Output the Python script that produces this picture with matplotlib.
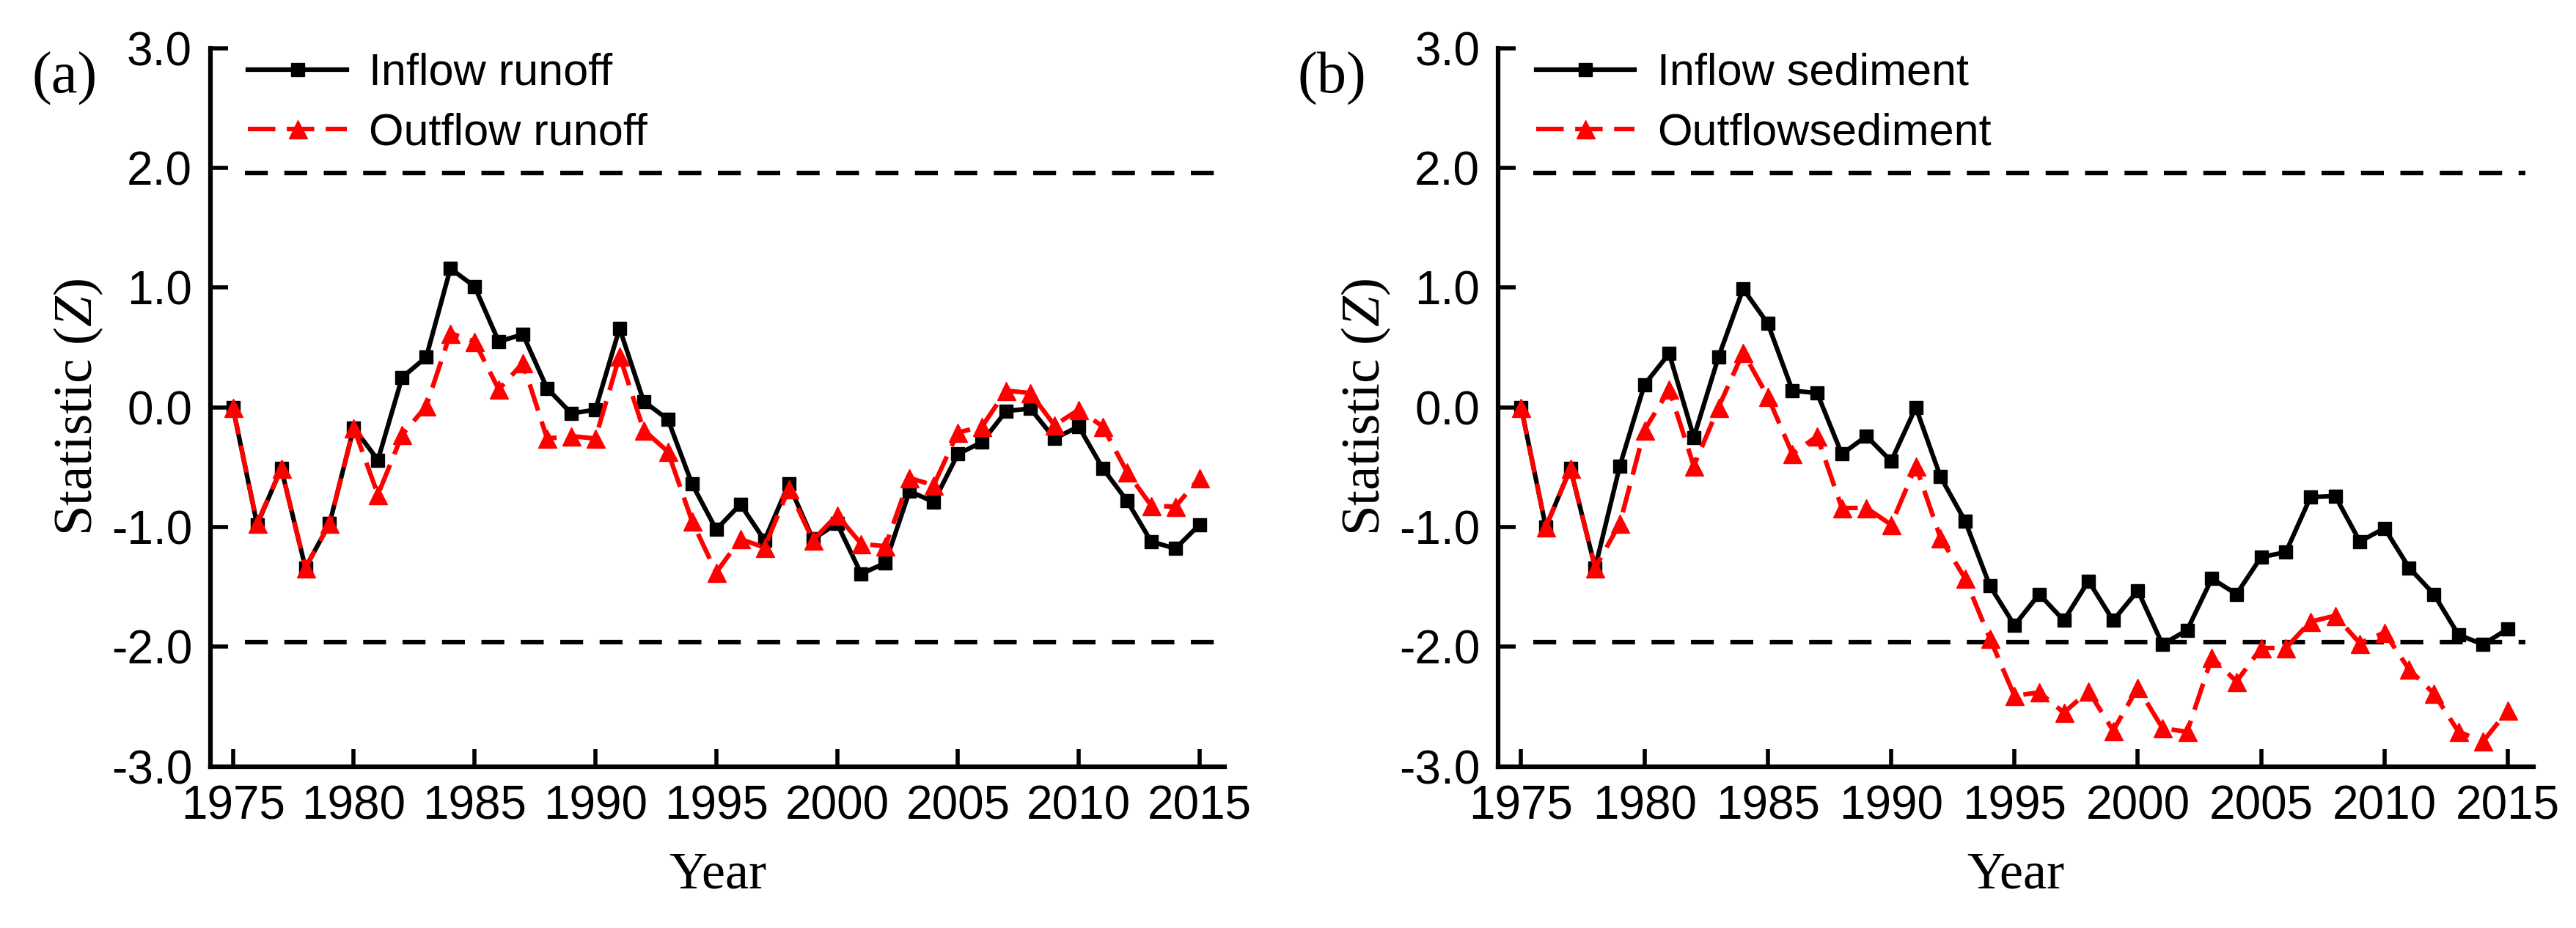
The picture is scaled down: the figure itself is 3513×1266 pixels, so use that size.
import numpy as np
import matplotlib.pyplot as plt

plt.rcParams['axes.unicode_minus'] = False
plt.rcParams['mathtext.fontset'] = 'custom'
plt.rcParams['mathtext.rm'] = 'Liberation Serif'
plt.rcParams['mathtext.it'] = 'Liberation Serif:italic'

years = list(range(1975, 2016))

inflow_runoff = [0.00, -0.98, -0.51, -1.34, -0.97, -0.17, -0.44, 0.25, 0.42, 1.16,
                 1.01, 0.55, 0.61, 0.16, -0.05, -0.02, 0.66, 0.05, -0.10, -0.64,
                 -1.02, -0.81, -1.11, -0.64, -1.10, -0.97, -1.39, -1.30, -0.70, -0.79,
                 -0.39, -0.29, -0.03, -0.01, -0.26, -0.16, -0.51, -0.78, -1.12, -1.18,
                 -0.98]
outflow_runoff = [0.00, -0.97, -0.51, -1.34, -0.97, -0.17, -0.73, -0.23, 0.01, 0.62,
                  0.55, 0.15, 0.37, -0.26, -0.24, -0.26, 0.43, -0.19, -0.37, -0.95,
                  -1.38, -1.10, -1.17, -0.68, -1.11, -0.90, -1.14, -1.16, -0.59, -0.65,
                  -0.21, -0.16, 0.14, 0.12, -0.15, -0.02, -0.16, -0.54, -0.82, -0.83,
                  -0.59]
inflow_sediment = [0.00, -1.00, -0.51, -1.34, -0.49, 0.19, 0.45, -0.25, 0.42, 0.99,
                   0.70, 0.14, 0.12, -0.39, -0.24, -0.45, 0.00, -0.58, -0.95, -1.49,
                   -1.82, -1.56, -1.78, -1.45, -1.78, -1.53, -1.98, -1.86, -1.43, -1.56,
                   -1.25, -1.21, -0.75, -0.74, -1.12, -1.01, -1.34, -1.56, -1.90, -1.98,
                   -1.85]
outflow_sediment = [0.00, -1.00, -0.51, -1.34, -0.97, -0.19, 0.15, -0.49, 0.00, 0.46,
                    0.09, -0.39, -0.24, -0.84, -0.84, -0.98, -0.49, -1.09, -1.43, -1.93,
                    -2.41, -2.38, -2.55, -2.37, -2.70, -2.34, -2.68, -2.71, -2.09, -2.29,
                    -2.01, -2.01, -1.79, -1.74, -1.97, -1.88, -2.19, -2.39, -2.71, -2.79,
                    -2.53]

crit = 1.96  # critical value, alpha = 0.05
ref_span = (1975.5, 2015.7)
yticks = [-3.0, -2.0, -1.0, 0.0, 1.0, 2.0, 3.0]
xticks = [1975, 1980, 1985, 1990, 1995, 2000, 2005, 2010, 2015]

panels = [
    ('(a)', [0.0817, 0.174, 0.3937, 0.774], inflow_runoff, outflow_runoff,
     'Inflow runoff', 'Outflow runoff', 0.025),
    ('(b)', [0.5816, 0.174, 0.4019, 0.774], inflow_sediment, outflow_sediment,
     'Inflow sediment', 'Outflowsediment', 0.517),
]

fig = plt.figure(figsize=(35.13, 12.66), dpi=100)

for tag, rect, inflow, outflow, lab_in, lab_out, tag_x in panels:
    ax = fig.add_axes(rect)
    ax.hlines([crit, -crit], ref_span[0], ref_span[1], colors='black',
              linewidth=4.5, linestyles=(0, (5, 3.6)))
    ax.plot(years, inflow, color='black', linewidth=4.5, marker='s',
            markersize=13, label=lab_in)
    ax.plot(years, outflow, color='red', linewidth=4.5, linestyle=(0, (6, 2.5)),
            marker='^', markersize=18, label=lab_out)

    ax.set_xlim(1974.07, 2016.04)
    ax.set_ylim(-3, 3)
    ax.set_xticks(xticks)
    ax.set_yticks(yticks)
    ax.set_yticklabels(['%.1f' % v for v in yticks])
    for side in ['top', 'right']:
        ax.spines[side].set_visible(False)
    for side in ['left', 'bottom']:
        ax.spines[side].set_linewidth(4.5)
    ax.tick_params(direction='in', length=17, width=4, labelsize=46,
                   pad=18)
    for t in ax.get_xticklabels() + ax.get_yticklabels():
        t.set_fontfamily('Liberation Sans')

    ax.set_xlabel('Year', fontsize=52, fontfamily='Liberation Serif', labelpad=22)
    ax.set_ylabel(r'Statistic ($\mathit{Z}$)', fontsize=54,
                  fontfamily='Liberation Serif', labelpad=6)

    leg = ax.legend(loc='upper left', bbox_to_anchor=(0.015, 1.025), frameon=False,
                    prop={'family': 'Liberation Sans', 'size': 44},
                    handlelength=2.2, handletextpad=0.5, labelspacing=0.4,
                    borderpad=0)

    fig.text(tag_x, 0.915, tag, fontsize=58, fontfamily='Liberation Serif',
             ha='center', va='center')

fig.savefig('out.png', dpi=100)
